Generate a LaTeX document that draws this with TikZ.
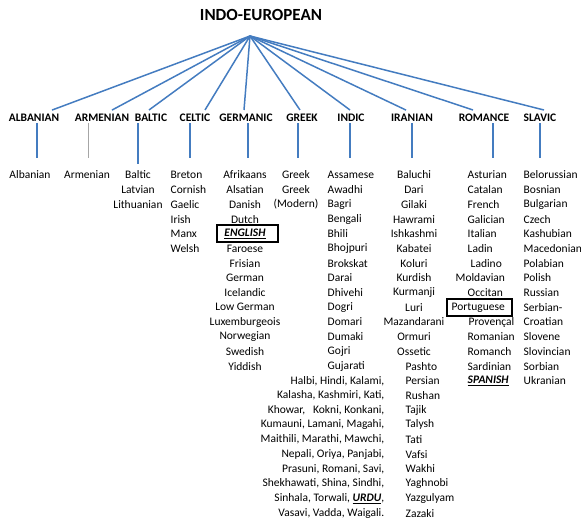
\documentclass[tikz,border=0pt]{standalone}
\usepackage{fontspec}
\setmainfont{Carlito}
\usetikzlibrary{calc}
\definecolor{ieblue}{RGB}{68,124,192}
\newcommand\ieEnglish{\textbf{\textit{\underline{ENGLISH}}}}
\newcommand\ieSpanish{\textbf{\textit{\underline{SPANISH}}}}
\newcommand\ieUrdu{\textbf{\textit{\underline{URDU}}}}
\begin{document}
\begin{tikzpicture}[x=1pt,y=-1pt,
  branch/.style={ieblue,line width=1.5pt},
  stem/.style={ieblue,line width=1.5pt},
  graystem/.style={gray!70,line width=0.9pt},
  fam/.style={font=\fontsize{11.5}{13}\selectfont\bfseries,inner sep=1pt},
  leaf/.style={font=\fontsize{11.5}{13}\selectfont,inner sep=0.5pt},
  hibox/.style={draw=black,line width=1.8pt,minimum height=17pt,inner sep=0pt}]
\useasboundingbox (0,0) rectangle (581,528);

% title and apex
\node[font=\fontsize{17}{19}\selectfont\bfseries,inner sep=1pt] (ie) at (261,15) {INDO-EUROPEAN};
\coordinate (apex) at (250,36);

% families
\node[fam] (alb) at (34,118) {ALBANIAN};
\node[fam] (arm) at (102,118) {ARMENIAN};
\node[fam] (bal) at (151,118) {BALTIC};
\node[fam] (cel) at (195,118) {CELTIC};
\node[fam] (ger) at (246,118) {GERMANIC};
\node[fam] (gre) at (302,118) {GREEK};
\node[fam] (ind) at (351,118) {INDIC};
\node[fam] (ira) at (412,118) {IRANIAN};
\node[fam] (rom) at (484,118) {ROMANCE};
\node[fam] (sla) at (540,118) {SLAVIC};

% branches
\draw[branch] (apex) -- ([xshift=18pt,yshift=3pt]alb.north);
\draw[branch] (apex) -- ([xshift=10pt,yshift=3pt]arm.north);
\draw[branch] (apex) -- ([xshift=-2pt,yshift=3pt]bal.north);
\draw[branch] (apex) -- ([xshift=10pt,yshift=3pt]cel.north);
\draw[branch] (apex) -- ([xshift=-2pt,yshift=3pt]ger.north);
\draw[branch] (apex) -- ([xshift=-2pt,yshift=3pt]gre.north);
\draw[branch] (apex) -- ([xshift=-1pt,yshift=3pt]ind.north);
\draw[branch] (apex) -- ([xshift=-6pt,yshift=3pt]ira.north);
\draw[branch] (apex) -- ([xshift=-11pt,yshift=3pt]rom.north);
\draw[branch] (apex) -- ([xshift=4pt,yshift=3pt]sla.north);

% stems
\draw[stem] ([xshift=3pt]alb.south) -- ++(0,35);
\draw[graystem] ([xshift=-14pt]arm.south) -- ++(0,35);
\draw[stem] ([xshift=-13pt]bal.south) -- ++(0,41);
\draw[stem] ([xshift=-5pt]cel.south) -- ++(0,35);
\draw[stem] ([xshift=2pt]ger.south) -- ++(0,35);
\draw[stem] ([xshift=-4pt]gre.south) -- ++(0,35);
\draw[stem] ([xshift=-1pt]ind.south) -- ++(0,35);
\draw[stem] (ira.south) -- ++(0,35);
\draw[stem] ([xshift=9pt]rom.south) -- ++(0,35);
\draw[stem] (sla.south) -- ++(0,35);

% leaves
\node[leaf] (alb1) at (30,175) {Albanian};
\node[leaf] (arm1) at (87,175) {Armenian};
\foreach \t [count=\i] in {Baltic,Latvian,Lithuanian}
  \node[leaf] (bal\i) at (138,{175+14.7*(\i-1)}) {\t};
\foreach \t [count=\i] in {Breton,Cornish,Gaelic,Irish,Manx,Welsh}
  \node[leaf,anchor=west] (cel\i) at (170,{175+14.7*(\i-1)}) {\t};
\foreach \t [count=\i] in {Afrikaans,Alsatian,Danish,Dutch,\ieEnglish,Faroese,Frisian,German,Icelandic,Low German,Luxemburgeois,Norwegian,Swedish,Yiddish}
  \node[leaf] (ger\i) at (245,{175+14.7*(\i-1)}) {\t};
\node[hibox,minimum width=61pt] (engbox) at ([xshift=2.5pt]ger5.center) {};
\foreach \t [count=\i] in {Greek,Greek,(Modern)}
  \node[leaf] (gre\i) at (296,{175+14.7*(\i-1)}) {\t};
\foreach \t [count=\i] in {Assamese,Awadhi,Bagri,Bengali,Bhili,Bhojpuri,Brokskat,Darai,Dhivehi,Dogri,Domari,Dumaki,Gojri,Gujarati}
  \node[leaf,anchor=west] (ind\i) at (327,{175+14.7*(\i-1)}) {\t};
\foreach \t [count=\i from 15] in {{Halbi, Hindi, Kalami,},{Kalasha, Kashmiri, Kati,},{Khowar,~~~Kokni, Konkani,},{Kumauni, Lamani, Magahi,},{Maithili, Marathi, Mawchi,},{Nepali, Oriya, Panjabi,},{Prasuni, Romani, Savi,},{Shekhawati, Shina, Sindhi,},{Sinhala, Torwali, \ieUrdu,},{Vasavi, Vadda, Waigali.}}
  \node[leaf,anchor=east] (ind\i) at (385,{175+14.7*(\i-1)}) {\t};
\foreach \t [count=\i] in {Baluchi,Dari,Gilaki,Hawrami,Ishkashmi,Kabatei,Koluri,Kurdish,Kurmanji,Luri,Mazandarani,Ormuri,Ossetic}
  \node[leaf] (ira\i) at (414,{175+14.7*(\i-1)}) {\t};
\foreach \t [count=\i from 14] in {Pashto,Persian,Rushan,Tajik,Talysh,Tati,Vafsi,Wakhi,Yaghnobi,Yazgulyam,Zazaki}
  \node[leaf,anchor=west] (ira\i) at (405,{175+14.7*(\i-1)}) {\t};
\foreach \t/\x [count=\i] in {Asturian/467,Catalan/467,French/467,Galician/467,Italian/467,Ladin/467,Ladino/470,Moldavian/455,Occitan/467,Portuguese/451,Provençal/468,Romanian/467,Romanch/467,Sardinian/467,\ieSpanish/467}
  \node[leaf,anchor=west] (rom\i) at (\x,{175+14.7*(\i-1)}) {\t};
\node[hibox,minimum width=65pt] (porbox) at (479.5,307.5) {};
\foreach \t [count=\i] in {Belorussian,Bosnian,Bulgarian,Czech,Kashubian,Macedonian,Polabian,Polish,Russian,Serbian-,Croatian,Slovene,Slovincian,Sorbian,Ukranian}
  \node[leaf,anchor=west] (sla\i) at (523,{175+14.7*(\i-1)}) {\t};
\end{tikzpicture}
\end{document}
